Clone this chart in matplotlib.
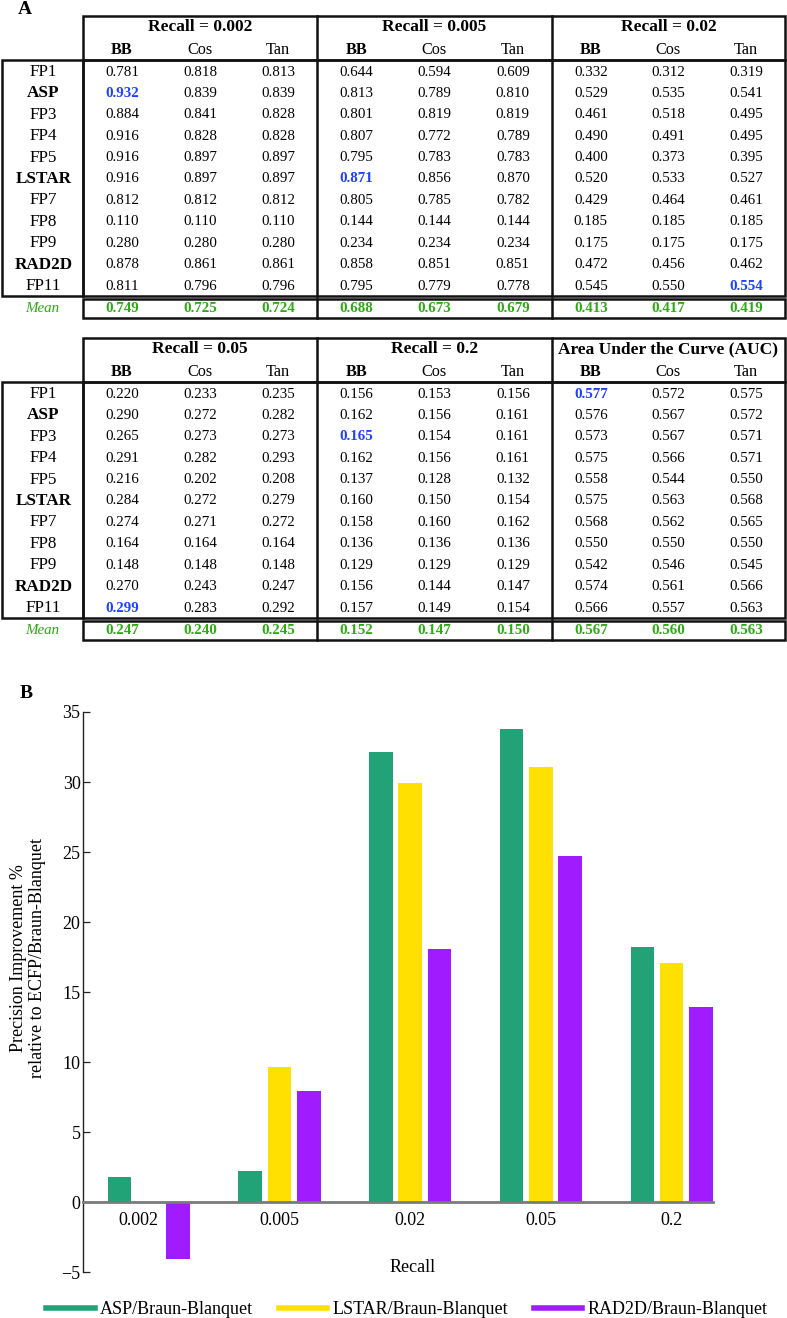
import matplotlib
matplotlib.use('Agg')
import matplotlib.pyplot as plt
from matplotlib.patches import Rectangle
from matplotlib.lines import Line2D
import numpy as np

plt.rcParams['font.family'] = ['Liberation Serif', 'DejaVu Serif']

# table data
fps = ['FP1', 'ASP', 'FP3', 'FP4', 'FP5', 'LSTAR', 'FP7', 'FP8', 'FP9', 'RAD2D', 'FP11']
bold_fps = ['ASP', 'LSTAR', 'RAD2D']
metrics = ['BB', 'Cos', 'Tan']
headers_top = ['Recall = 0.002', 'Recall = 0.005', 'Recall = 0.02']
headers_bottom = ['Recall = 0.05', 'Recall = 0.2', 'Area Under the Curve (AUC)']

r002 = [[0.781, 0.818, 0.813], [0.932, 0.839, 0.839], [0.884, 0.841, 0.828], [0.916, 0.828, 0.828],
        [0.916, 0.897, 0.897], [0.916, 0.897, 0.897], [0.812, 0.812, 0.812], [0.110, 0.110, 0.110],
        [0.280, 0.280, 0.280], [0.878, 0.861, 0.861], [0.811, 0.796, 0.796]]
r005 = [[0.644, 0.594, 0.609], [0.813, 0.789, 0.810], [0.801, 0.819, 0.819], [0.807, 0.772, 0.789],
        [0.795, 0.783, 0.783], [0.871, 0.856, 0.870], [0.805, 0.785, 0.782], [0.144, 0.144, 0.144],
        [0.234, 0.234, 0.234], [0.858, 0.851, 0.851], [0.795, 0.779, 0.778]]
r02 = [[0.332, 0.312, 0.319], [0.529, 0.535, 0.541], [0.461, 0.518, 0.495], [0.490, 0.491, 0.495],
       [0.400, 0.373, 0.395], [0.520, 0.533, 0.527], [0.429, 0.464, 0.461], [0.185, 0.185, 0.185],
       [0.175, 0.175, 0.175], [0.472, 0.456, 0.462], [0.545, 0.550, 0.554]]
r05 = [[0.220, 0.233, 0.235], [0.290, 0.272, 0.282], [0.265, 0.273, 0.273], [0.291, 0.282, 0.293],
       [0.216, 0.202, 0.208], [0.284, 0.272, 0.279], [0.274, 0.271, 0.272], [0.164, 0.164, 0.164],
       [0.148, 0.148, 0.148], [0.270, 0.243, 0.247], [0.299, 0.283, 0.292]]
r2 = [[0.156, 0.153, 0.156], [0.162, 0.156, 0.161], [0.165, 0.154, 0.161], [0.162, 0.156, 0.161],
      [0.137, 0.128, 0.132], [0.160, 0.150, 0.154], [0.158, 0.160, 0.162], [0.136, 0.136, 0.136],
      [0.129, 0.129, 0.129], [0.156, 0.144, 0.147], [0.157, 0.149, 0.154]]
auc = [[0.577, 0.572, 0.575], [0.576, 0.567, 0.572], [0.573, 0.567, 0.571], [0.575, 0.566, 0.571],
       [0.558, 0.544, 0.550], [0.575, 0.563, 0.568], [0.568, 0.562, 0.565], [0.550, 0.550, 0.550],
       [0.542, 0.546, 0.545], [0.574, 0.561, 0.566], [0.566, 0.557, 0.563]]

mean_r002 = [0.749, 0.725, 0.724]
mean_r005 = [0.688, 0.673, 0.679]
mean_r02 = [0.413, 0.417, 0.419]
mean_r05 = [0.247, 0.240, 0.245]
mean_r2 = [0.152, 0.147, 0.150]
mean_auc = [0.567, 0.560, 0.563]

# bar chart data
recall_labels = ['0.002', '0.005', '0.02', '0.05', '0.2']
asp_impr = [1.8, 2.25, 32.15, 33.8, 18.25]
lstar_impr = [0.0, 9.65, 29.9, 31.1, 17.1]
rad2d_impr = [-4.05, 7.95, 18.05, 24.7, 13.95]
series_names = ['ASP/Braun-Blanquet', 'LSTAR/Braun-Blanquet', 'RAD2D/Braun-Blanquet']

green = '#22a377'
yellow = '#ffe000'
purple = '#a01cff'
blue = '#1e40ff'
mean_green = '#2eaa14'
line_c = '#111111'

W, H = 787, 1318
fig = plt.figure(figsize=(W / 100, H / 100), dpi=100)

# tables are drawn in pixel-like coordinates on a background axes
tab = fig.add_axes([0, 0, 1, 1])
tab.set_xlim(0, W)
tab.set_ylim(H, 0)
tab.axis('off')

group_x = [83, 317, 552, 785]
label_x = 2


def draw_table(y0, headers, blocks, means):
    hdr_bot = y0 + 44
    body_bot = y0 + 280
    mean_top = y0 + 283
    mean_bot = y0 + 302
    lw = 1.8
    boxes = [(group_x[0], y0, group_x[-1], hdr_bot),
             (label_x, hdr_bot, group_x[0], body_bot),
             (group_x[0], hdr_bot, group_x[-1], body_bot),
             (group_x[0], mean_top, group_x[-1], mean_bot)]
    for x1, y1, x2, y2 in boxes:
        tab.add_patch(Rectangle((x1, y1), x2 - x1, y2 - y1, fill=False, ec=line_c, lw=lw))
    for gx in group_x[1:-1]:
        tab.plot([gx, gx], [y0, body_bot], color=line_c, lw=lw)
        tab.plot([gx, gx], [mean_top, mean_bot], color=line_c, lw=lw)

    for g, (hdr, vals, mvals) in enumerate(zip(headers, blocks, means)):
        gw = group_x[g + 1] - group_x[g]
        xs = [group_x[g] + gw * (2 * k + 1) / 6 for k in range(3)]
        tab.text((group_x[g] + group_x[g + 1]) / 2, y0 + 11, hdr, ha='center', va='center',
                 fontsize=12.5, fontweight='bold')
        for k, m in enumerate(metrics):
            tab.text(xs[k], y0 + 34, m, ha='center', va='center', fontsize=11.7,
                     fontweight='bold' if m == 'BB' else 'normal')
        arr = np.array(vals)
        # best value of each block is shown in blue
        best = np.unravel_index(np.argmax(arr), arr.shape)
        for i in range(len(fps)):
            for k in range(3):
                hl = (i, k) == best
                tab.text(xs[k], y0 + 56 + 21.4 * i, '%.3f' % arr[i, k], ha='center', va='center',
                         fontsize=10.8, color=blue if hl else 'black',
                         fontweight='bold' if hl else 'normal')
        for k in range(3):
            tab.text(xs[k], y0 + 292, '%.3f' % mvals[k], ha='center', va='center',
                     fontsize=10.8, color=mean_green, fontweight='bold')

    for i, name in enumerate(fps):
        tab.text((label_x + group_x[0]) / 2 + 1, y0 + 56 + 21.4 * i, name, ha='center', va='center',
                 fontsize=12.3, fontweight='bold' if name in bold_fps else 'normal')
    tab.text((label_x + group_x[0]) / 2, y0 + 292, 'Mean', ha='center', va='center',
             fontsize=10.8, style='italic', color=mean_green)


draw_table(16, headers_top, [r002, r005, r02], [mean_r002, mean_r005, mean_r02])
draw_table(338, headers_bottom, [r05, r2, auc], [mean_r05, mean_r2, mean_auc])

tab.text(25, 9, 'A', ha='center', va='center', fontsize=14, fontweight='bold')
tab.text(26, 693, 'B', ha='center', va='center', fontsize=14, fontweight='bold')

# bar chart
ax = fig.add_axes([83.3 / W, (H - 1272.4) / H, (712.7 - 83.3) / W, (1272.4 - 712) / H])
x = np.arange(len(recall_labels))
bw = 0.18
off = 0.224
ax.bar(x - off, asp_impr, bw, color=green, lw=0)
ax.bar(x, lstar_impr, bw, color=yellow, lw=0)
ax.bar(x + off, rad2d_impr, bw, color=purple, lw=0)

ax.set_xlim(-0.501, 4.3146)
ax.set_ylim(-5, 35)
yt = np.arange(-5, 36, 5)
ax.set_yticks(yt)
ax.set_yticklabels(['\u22125'] + [str(v) for v in yt[1:]])
# first label sits a bit left of its group, clear of the negative bar
label_pos = x.astype(float)
label_pos[0] -= 0.08
ax.set_xticks(label_pos)
ax.set_xticklabels(recall_labels)
ax.tick_params(axis='y', direction='in', length=5, width=0.9, pad=2, labelsize=13, color='#222222')
ax.tick_params(axis='x', length=0, pad=7, labelsize=13)
ax.spines['top'].set_visible(False)
ax.spines['right'].set_visible(False)
ax.spines['left'].set_color('#222222')
ax.spines['left'].set_linewidth(1.0)
ax.spines['bottom'].set_position(('data', 0))
ax.spines['bottom'].set_color('#7a7a7a')
ax.spines['bottom'].set_linewidth(2.0)
ax.spines['bottom'].set_zorder(3)

fig.text(28 / W, (H - 958) / H, 'Precision Improvement %\nrelative to ECFP/Braun-Blanquet',
         rotation=90, ha='center', va='center', multialignment='center', fontsize=13, linespacing=1.15)
fig.text(413 / W, (H - 1267) / H, 'Recall', ha='center', va='center', fontsize=13)

handles = [Line2D([], [], color=c, lw=4) for c in [green, yellow, purple]]
fig.legend(handles, series_names, ncol=3, loc='center', bbox_to_anchor=(407 / W, 8 / H),
           frameon=False, fontsize=13, handlelength=2.7, handletextpad=0.3, columnspacing=1.4,
           borderpad=0, borderaxespad=0)

fig.savefig('out.png', dpi=100)
